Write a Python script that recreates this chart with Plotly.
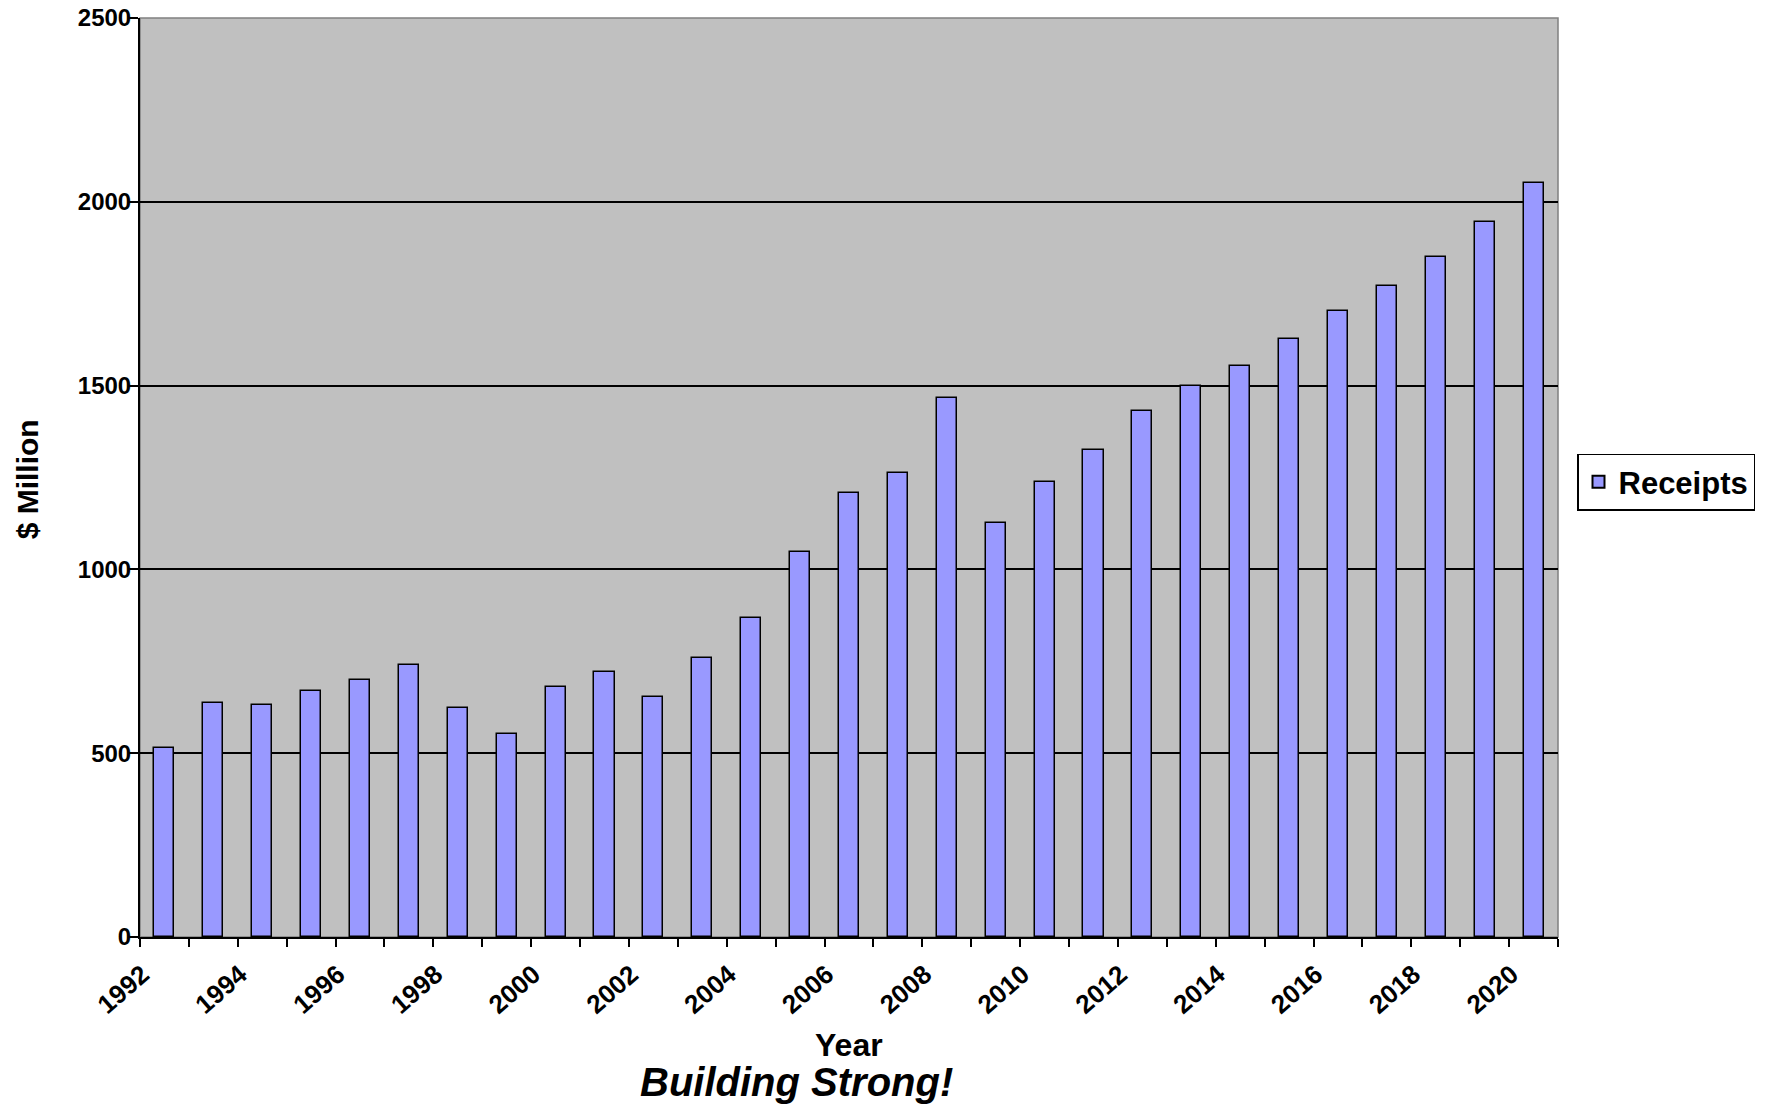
import plotly.graph_objects as go

years = list(range(1992, 2021))
receipts = [513, 637, 632, 670, 700, 739, 624, 551, 679, 721, 653, 759, 869,
            1047, 1207, 1263, 1466, 1127, 1237, 1326, 1432, 1500, 1554, 1627,
            1703, 1771, 1851, 1945, 2050]
tick_years = list(range(1992, 2021, 2))
tick_labels = [str(y) for y in tick_years]
y_ticks = [0, 500, 1000, 1500, 2000, 2500]

FONT = "Liberation Sans, Arial, sans-serif"

fig = go.Figure()
fig.add_trace(go.Bar(
    x=years, y=receipts, name="Receipts", width=0.41,
    marker=dict(color="#9999FF", line=dict(color="black", width=1.5)),
    showlegend=True,
))

fig.update_layout(
    width=1769, height=1108,
    margin=dict(l=140, r=211, t=18, b=171, autoexpand=False),
    paper_bgcolor="white", plot_bgcolor="#C0C0C0",
    font=dict(family=FONT, color="black"),
    bargap=0,
    legend=dict(
        x=1.0134, xanchor="left", y=0.495, yanchor="middle",
        bgcolor="white", bordercolor="black", borderwidth=1.5,
        font=dict(family=FONT, size=31, color="black", weight="bold"),
        itemsizing="constant",
    ),
    showlegend=True,
)

fig.update_xaxes(
    range=[1991.5, 2020.5],
    tickmode="array", tickvals=tick_years, ticktext=tick_labels,
    ticks="", tickangle=-41,
    ticklabelshift=-22, ticklabelstandoff=10,
    tickfont=dict(family=FONT, size=26, color="black", weight="bold"),
    showgrid=False, zeroline=False,
    showline=True, linecolor="black", linewidth=2,
    minor=dict(tickmode="linear", tick0=1991.5, dtick=1, ticks="outside",
               ticklen=8, tickwidth=1.5, tickcolor="black", showgrid=False),
)
fig.update_yaxes(
    range=[0, 2500],
    tickmode="array", tickvals=y_ticks,
    ticks="outside", ticklen=10, tickwidth=1.5, tickcolor="black",
    ticklabeloverflow="allow", ticklabelstandoff=-8,
    tickfont=dict(family=FONT, size=24, color="black", weight="bold"),
    showgrid=True, gridcolor="black", gridwidth=1.5,
    zeroline=False,
    showline=True, linecolor="black", linewidth=2,
)

fig.add_shape(type="rect", xref="paper", yref="paper", x0=0, x1=1, y0=0, y1=1,
              line=dict(color="#808080", width=1.5), layer="below")

fig.add_annotation(text="Year", xref="paper", yref="paper", x=0.5, y=-0.118,
                   xanchor="center", yanchor="middle", showarrow=False,
                   font=dict(family=FONT, size=32, color="black", weight="bold"))
fig.add_annotation(text="<b><i>Building Strong!</i></b>", xref="paper", yref="paper",
                   x=0.4633, y=-0.158, xanchor="center", yanchor="middle",
                   showarrow=False, font=dict(family=FONT, size=40, color="black"))
fig.add_annotation(text="$ Million", xref="paper", yref="paper", x=-0.0797, y=0.498,
                   xanchor="center", yanchor="middle", textangle=-90, showarrow=False,
                   font=dict(family=FONT, size=30, color="black", weight="bold"))

fig.write_html("out.html", config={"displayModeBar": False},
               post_script="document.body.style.margin='0';")
